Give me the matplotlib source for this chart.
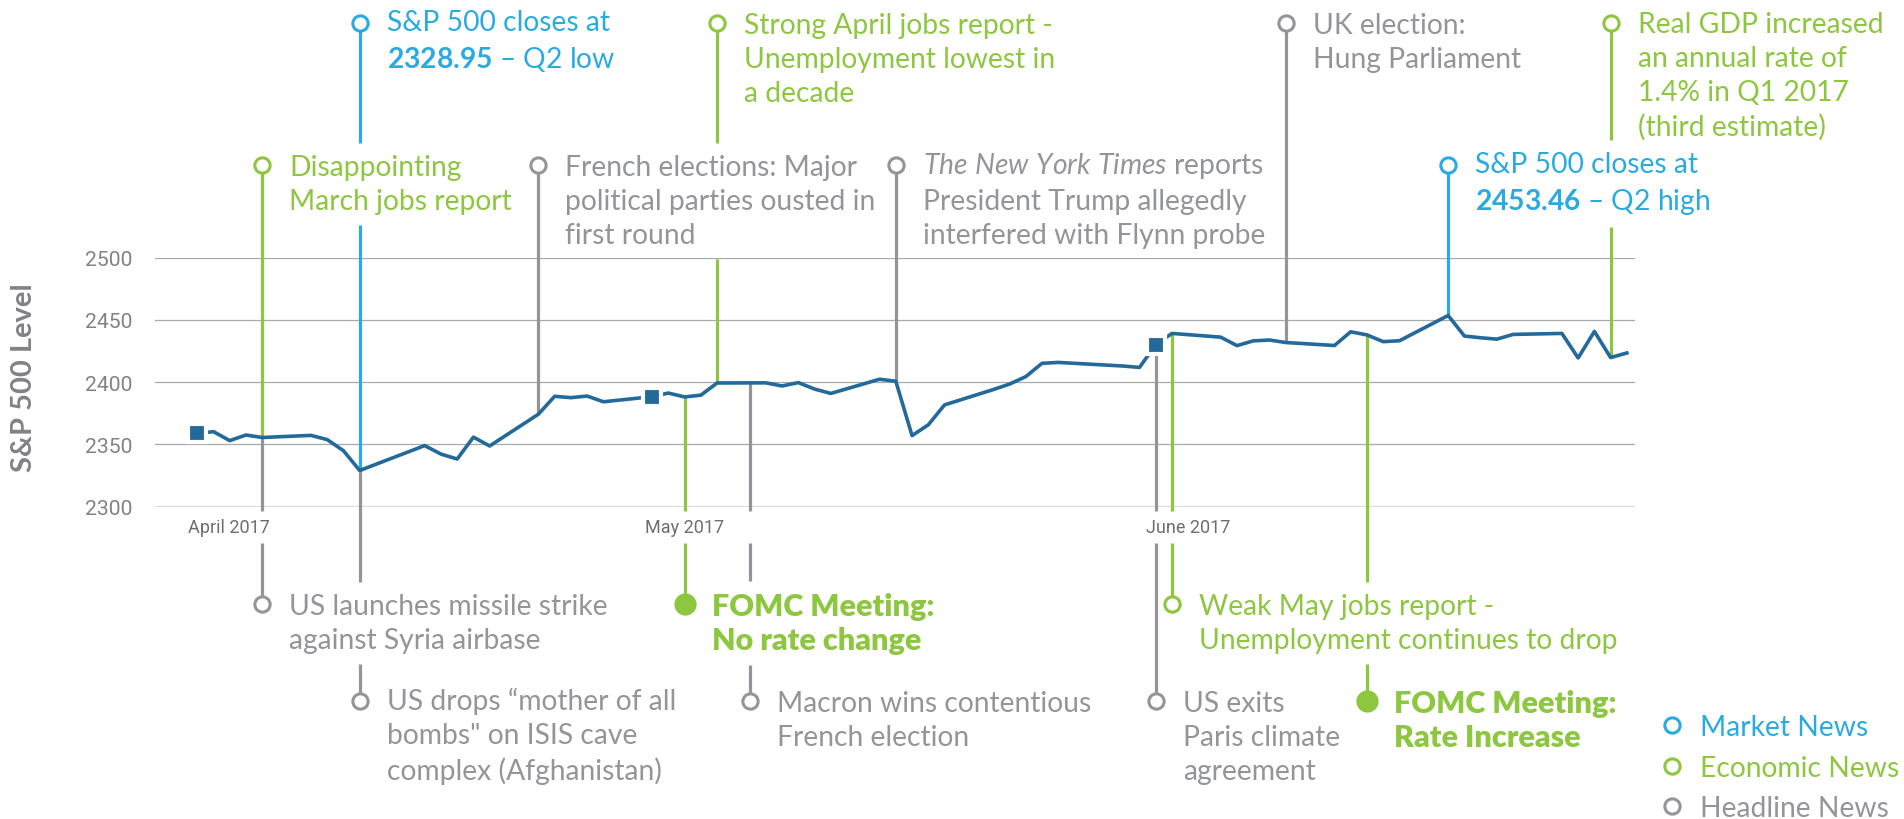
import numpy as np
import matplotlib
matplotlib.use("Agg")
import matplotlib.pyplot as plt
import matplotlib.dates as mdates
from matplotlib.lines import Line2D
from matplotlib.font_manager import FontProperties

# ---------------- data ----------------
trade_dates = [
    "2017-04-03", "2017-04-04", "2017-04-05", "2017-04-06", "2017-04-07",
    "2017-04-10", "2017-04-11", "2017-04-12", "2017-04-13",
    "2017-04-17", "2017-04-18", "2017-04-19", "2017-04-20", "2017-04-21",
    "2017-04-24", "2017-04-25", "2017-04-26", "2017-04-27", "2017-04-28",
    "2017-05-01", "2017-05-02", "2017-05-03", "2017-05-04", "2017-05-05",
    "2017-05-08", "2017-05-09", "2017-05-10", "2017-05-11", "2017-05-12",
    "2017-05-15", "2017-05-16", "2017-05-17", "2017-05-18", "2017-05-19",
    "2017-05-22", "2017-05-23", "2017-05-24", "2017-05-25", "2017-05-26",
    "2017-05-30", "2017-05-31",
    "2017-06-01", "2017-06-02",
    "2017-06-05", "2017-06-06", "2017-06-07", "2017-06-08", "2017-06-09",
    "2017-06-12", "2017-06-13", "2017-06-14", "2017-06-15", "2017-06-16",
    "2017-06-19", "2017-06-20", "2017-06-21", "2017-06-22", "2017-06-23",
    "2017-06-26", "2017-06-27", "2017-06-28", "2017-06-29", "2017-06-30"]
closes = [
    2358.8, 2360.2, 2353.0, 2357.5, 2355.5,
    2357.2, 2353.8, 2344.9, 2329.0,
    2349.0, 2342.2, 2338.2, 2355.8, 2348.7,
    2374.2, 2388.6, 2387.5, 2388.8, 2384.2,
    2388.3, 2391.2, 2388.1, 2389.5, 2399.3,
    2399.4, 2396.9, 2399.6, 2394.4, 2390.9,
    2402.3, 2400.7, 2357.0, 2365.7, 2381.7,
    2394.0, 2398.4, 2404.4, 2415.1, 2415.8,
    2412.9, 2411.8,
    2430.1, 2439.1,
    2436.1, 2429.3, 2433.1, 2433.8, 2431.8,
    2429.4, 2440.4, 2437.9, 2432.5, 2433.2,
    2453.5, 2437.0, 2435.6, 2434.5, 2438.3,
    2439.1, 2419.4, 2440.7, 2419.7, 2423.4]

month_labels = ["April 2017", "May 2017", "June 2017"]
yticks = [2300, 2350, 2400, 2450, 2500]
y_label = "S&P 500 Level"

event_dates = ["2017-04-07", "2017-04-13", "2017-04-24", "2017-05-05",
               "2017-05-16", "2017-06-09", "2017-06-19", "2017-06-29",
               "2017-04-07", "2017-04-13", "2017-05-03", "2017-05-07",
               "2017-06-01", "2017-06-02", "2017-06-14"]
event_kinds = ["economic", "market", "headline", "economic",
               "headline", "headline", "market", "economic",
               "headline", "headline", "economic", "headline",
               "headline", "economic", "economic"]
event_texts = [
    "Disappointing\nMarch jobs report",
    "S&P 500 closes at\n$\\mathbf{2328.95}$ \u2013 Q2 low",
    "French elections: Major\npolitical parties ousted in\nfirst round",
    "Strong April jobs report -\nUnemployment lowest in\na decade",
    "$\\mathit{The\\ New\\ York\\ Times}$ reports\nPresident Trump allegedly\ninterfered with Flynn probe",
    "UK election:\nHung Parliament",
    "S&P 500 closes at\n$\\mathbf{2453.46}$ \u2013 Q2 high",
    "Real GDP increased\nan annual rate of\n1.4% in Q1 2017\n(third estimate)",
    "US launches missile strike\nagainst Syria airbase",
    "US drops \u201cmother of all\nbombs\" on ISIS cave\ncomplex (Afghanistan)",
    "FOMC Meeting:\nNo rate change",
    "Macron wins contentious\nFrench election",
    "US exits\nParis climate\nagreement",
    "Weak May jobs report -\nUnemployment continues to drop",
    "FOMC Meeting:\nRate Increase"]
event_fomc = [False, False, False, False, False, False, False, False,
              False, False, True, False, False, False, True]

legend_labels = ["Market News", "Economic News", "Headline News"]
legend_kinds = ["market", "economic", "headline"]

# ---------------- layout / style ----------------
W, H = 1904, 820
event_rows = ["t2", "t1", "t2", "t1", "t2", "t1", "t2", "t1",
              "b1", "b2", "b1", "b2", "b2", "b1", "b2"]
row_px = {"t1": 24, "t2": 166, "b1": 605, "b2": 702}
kind_color = {"market": "#29abe2", "economic": "#8dc63f", "headline": "#939598"}
line_color = "#23699a"
FS = 20.3          # regular event text (pt)
FS_BOLD = 22.0     # FOMC text (pt)
W_REG = "normal"
STEP = 34.0        # baseline-to-baseline distance (px)
TEXT_DX = 27

plt.rcParams["font.family"] = ["Lato", "DejaVu Sans"]
plt.rcParams["mathtext.fontset"] = "custom"
plt.rcParams["mathtext.rm"] = "Lato"
plt.rcParams["mathtext.it"] = "Lato:italic"
plt.rcParams["mathtext.bf"] = "Lato:bold"

fig = plt.figure(figsize=(W / 100, H / 100), dpi=100)
rend = fig.canvas.get_renderer()


def spacing(fs, weight):
    fp = FontProperties(family=["Lato", "DejaVu Sans"], size=fs, weight=weight)
    _, h, d = rend.get_text_width_height_descent("lp", fp, ismath=False)
    return (STEP - d) / (h - d)


LSP_REG = spacing(FS, W_REG)
LSP_BOLD = spacing(FS_BOLD, "heavy")

ax = fig.add_axes([155 / W, 1 - 507.6 / H, 1480 / W, 249 / H])

xd = mdates.date2num(np.array(trade_dates, dtype="datetime64[D]"))
yc = np.array(closes)
ax.set_xlim(xd[0] - 2.6, xd[-1] + 0.5)
ax.set_ylim(yticks[0], yticks[-1])
for s in ax.spines.values():
    s.set_visible(False)
ax.set_xticks([])
ax.set_yticks(yticks)
ax.set_yticklabels([str(v) for v in yticks], fontfamily="Roboto",
                   fontsize=15.2, color="#808285")
ax.tick_params(axis="y", length=0, pad=16.5)
for v in yticks[1:]:
    ax.axhline(v, color="#a7a9ac", lw=0.9, zorder=1)
ax.axhline(yticks[0], color="#dcddde", lw=2.4, zorder=1)

ax.plot(xd, yc, color=line_color, lw=2.6, zorder=5, clip_on=False)
month_idx = [0] + [i for i in range(1, len(trade_dates))
                   if trade_dates[i][5:7] != trade_dates[i - 1][5:7]]
ax.plot(xd[month_idx], yc[month_idx], "s", ms=13, mfc=line_color,
        mec="white", mew=3, zorder=6, clip_on=False)

# month labels
month_objs = []
for k, i in enumerate(month_idx):
    xdisp = ax.transData.transform((xd[i], yticks[0]))[0]
    t = fig.text((xdisp + 32) / W, 1 - 528 / H, month_labels[k],
                 fontfamily="Roboto", fontsize=13, color="#6d6e71",
                 ha="center", va="center")
    month_objs.append(t)

fig.text(24 / W, 1 - 378 / H, y_label, rotation=90, ha="center",
         va="center", fontsize=21, fontweight="bold", color="#808285")


def block_text(x_px, cy, txt, col, fs, weight, lsp):
    """Multi-line text whose first line's caps are centred on cy (display px)."""
    n = txt.count("\n") + 1
    half_cap = 0.36 * fs * 100 / 72
    y_last = cy - half_cap - (n - 1) * STEP
    return fig.text(x_px / W, y_last / H, txt, color=col, fontsize=fs,
                    fontweight=weight, ha="left", va="baseline",
                    linespacing=lsp)


# events: text
ev_x = mdates.date2num(np.array(event_dates, dtype="datetime64[D]"))
ev_y = np.interp(ev_x, xd, yc)
ev_objs = []
ev_geo = []
for i in range(len(event_dates)):
    xdisp, ydisp = ax.transData.transform((ev_x[i], ev_y[i]))
    cy = H - row_px[event_rows[i]]
    col = kind_color[event_kinds[i]]
    if event_fomc[i]:
        t = block_text(xdisp + TEXT_DX, cy, event_texts[i], col, FS_BOLD,
                       "heavy", LSP_BOLD)
    else:
        t = block_text(xdisp + TEXT_DX, cy, event_texts[i], col, FS,
                       W_REG, LSP_REG)
    ev_objs.append(t)
    ev_geo.append((xdisp, ydisp, cy))

# legend
legend_rows_px = [726, 767, 807]
for k, lab in enumerate(legend_labels):
    col = kind_color[legend_kinds[k]]
    y = H - legend_rows_px[k]
    fig.add_artist(Line2D([1672 / W], [y / H], transform=fig.transFigure,
                          marker="o", ms=11, mfc="white", mec=col, mew=2.2,
                          ls="none"))
    block_text(1700, y, lab, col, FS, W_REG, LSP_REG)

# event lines with gaps around other texts
fig.canvas.draw()
rend = fig.canvas.get_renderer()
blocks = [(i, t.get_window_extent(rend), 10, 11) for i, t in enumerate(ev_objs)]
blocks += [(-1, t.get_window_extent(rend), 36, 7) for t in month_objs]
inv = ax.transData.inverted()

for i, (xdisp, ydisp, cy) in enumerate(ev_geo):
    col = kind_color[event_kinds[i]]
    lo, hi = min(ydisp, cy), max(ydisp, cy)
    cuts = sorted((bb.y0 - my, bb.y1 + my) for j, bb, mx, my in blocks
                  if j != i and bb.x0 - mx <= xdisp <= bb.x1 + mx
                  and bb.y1 + my > lo and bb.y0 - my < hi)
    segs = []
    start = lo
    for a, b in cuts:
        if a > start:
            segs.append((start, a))
        start = max(start, b)
    if start < hi:
        segs.append((start, hi))
    for a, b in segs:
        p0 = inv.transform((xdisp, a))
        p1 = inv.transform((xdisp, b))
        ax.plot([p0[0], p1[0]], [p0[1], p1[1]], color=col, lw=2.3,
                solid_capstyle="butt", zorder=3, clip_on=False)
    pc = inv.transform((xdisp, cy))
    if event_fomc[i]:
        ax.plot([pc[0]], [pc[1]], "o", ms=16, mfc=col, mec=col, mew=0,
                zorder=7, clip_on=False)
    else:
        ax.plot([pc[0]], [pc[1]], "o", ms=11, mfc="white", mec=col, mew=2.2,
                zorder=7, clip_on=False)

fig.savefig("out.png", dpi=100)
